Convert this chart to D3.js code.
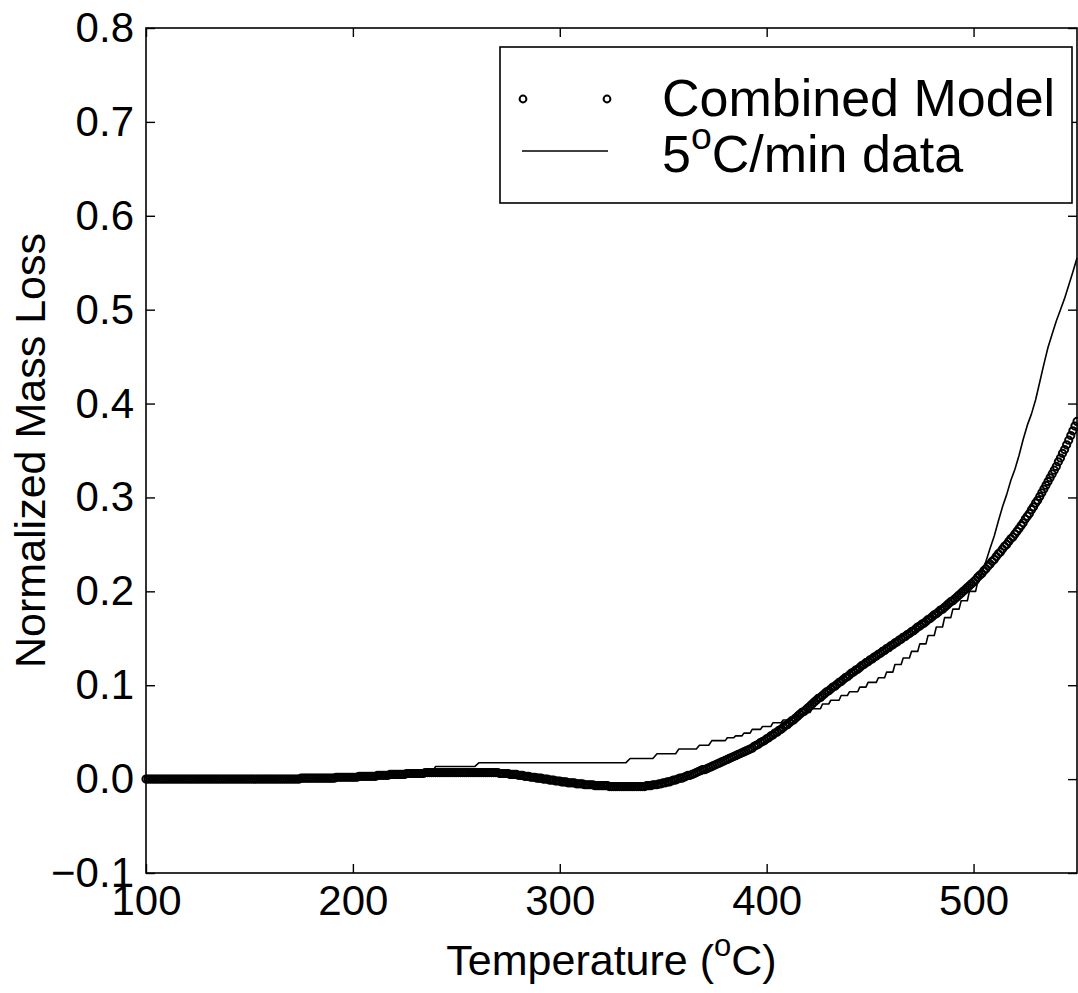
<!DOCTYPE html>
<html>
<head>
<meta charset="utf-8">
<script src="https://cdn.jsdelivr.net/npm/d3@7"></script>
<style>
  html, body { margin: 0; padding: 0; background: #fff; }
  svg { display: block; font-family: "Liberation Sans", Arial, Helvetica, sans-serif; }
</style>
</head>
<body>
<svg id="chart" width="1078" height="993"></svg>
<script>
// ---- data -------------------------------------------------------------
const xTicks = [100, 200, 300, 400, 500];
const yTicks = [-0.1, 0.0, 0.1, 0.2, 0.3, 0.4, 0.5, 0.6, 0.7, 0.8];

// Combined model, evaluated every 1 °C from 100 °C to 550 °C
const modelStartT = 100;
const modelStepT = 1;
const modelLoss = [
  0,0,0,0,0,0,0,0,0,0,
  0,0,0,0,0,0,0,0,0,0,
  0,0,0,0,0,0,0,0,0,0,
  0,0,0,0,0,0,0,0,0,0,
  0,0,0,0,0,0,0,0,0,0,
  0,0,0,0,0,0,0,0,0,0,
  0,0,0,0,0,0,0,0,0,0,
  0,0,0,0,0,0.001,0.001,0.001,0.001,0.001,
  0.001,0.001,0.001,0.001,0.001,0.001,0.001,0.001,0.001,0.001,
  0.001,0.001,0.002,0.002,0.002,0.002,0.002,0.002,0.002,0.002,
  0.002,0.002,0.002,0.003,0.003,0.003,0.003,0.003,0.003,0.003,
  0.003,0.003,0.004,0.004,0.004,0.004,0.004,0.004,0.005,0.005,
  0.005,0.005,0.005,0.005,0.005,0.005,0.006,0.006,0.006,0.006,
  0.006,0.006,0.006,0.006,0.006,0.007,0.007,0.007,0.007,0.007,
  0.007,0.007,0.007,0.007,0.007,0.007,0.007,0.007,0.007,0.007,
  0.007,0.007,0.007,0.007,0.007,0.007,0.007,0.007,0.007,0.007,
  0.007,0.007,0.007,0.007,0.007,0.007,0.007,0.007,0.007,0.007,
  0.007,0.006,0.006,0.006,0.006,0.006,0.005,0.005,0.005,0.005,
  0.004,0.004,0.004,0.003,0.003,0.003,0.002,0.002,0.002,0.001,
  0.001,0.001,0.000,0.000,0.000,-0.001,-0.001,-0.001,-0.002,-0.002,
  -0.002,-0.003,-0.003,-0.003,-0.004,-0.004,-0.004,-0.004,-0.005,-0.005,
  -0.005,-0.005,-0.006,-0.006,-0.006,-0.006,-0.006,-0.007,-0.007,-0.007,
  -0.007,-0.007,-0.007,-0.007,-0.008,-0.008,-0.008,-0.008,-0.008,-0.008,
  -0.008,-0.008,-0.008,-0.008,-0.008,-0.008,-0.008,-0.008,-0.008,-0.008,
  -0.008,-0.008,-0.007,-0.007,-0.007,-0.006,-0.006,-0.006,-0.005,-0.005,
  -0.004,-0.004,-0.003,-0.003,-0.002,-0.001,-0.001,0.000,0.001,0.001,
  0.002,0.003,0.004,0.004,0.005,0.006,0.007,0.008,0.009,0.010,
  0.010,0.011,0.012,0.013,0.014,0.015,0.016,0.017,0.018,0.019,
  0.020,0.021,0.022,0.023,0.024,0.025,0.026,0.027,0.028,0.029,
  0.030,0.031,0.032,0.033,0.035,0.036,0.037,0.039,0.040,0.041,
  0.043,0.044,0.046,0.047,0.049,0.050,0.052,0.053,0.055,0.057,
  0.058,0.060,0.062,0.063,0.065,0.067,0.069,0.071,0.072,0.074,
  0.076,0.078,0.080,0.082,0.084,0.086,0.087,0.089,0.091,0.093,
  0.094,0.096,0.098,0.099,0.101,0.103,0.104,0.106,0.108,0.109,
  0.111,0.113,0.114,0.116,0.117,0.119,0.121,0.122,0.124,0.125,
  0.127,0.128,0.130,0.131,0.133,0.134,0.136,0.137,0.139,0.140,
  0.142,0.143,0.145,0.146,0.148,0.149,0.151,0.152,0.154,0.155,
  0.157,0.158,0.160,0.162,0.163,0.165,0.166,0.168,0.170,0.171,
  0.173,0.175,0.176,0.178,0.180,0.181,0.183,0.185,0.187,0.189,
  0.190,0.192,0.194,0.196,0.198,0.200,0.202,0.204,0.206,0.208,
  0.210,0.212,0.215,0.217,0.219,0.222,0.224,0.227,0.229,0.232,
  0.234,0.237,0.240,0.242,0.245,0.248,0.250,0.253,0.256,0.258,
  0.261,0.264,0.267,0.270,0.273,0.277,0.280,0.283,0.287,0.290,
  0.294,0.297,0.301,0.305,0.309,0.313,0.317,0.321,0.325,0.329,
  0.333,0.338,0.342,0.347,0.351,0.356,0.361,0.366,0.371,0.376,
  0.381
];

// Measured TGA trace at 5 °C/min (balance resolution gives the staircase)
const dataTemp = [
  100, 150, 200, 238, 240, 259, 261, 332, 334, 345, 347, 356, 357.5, 366, 367.5,
  372, 373.5, 380, 381, 384, 385, 388, 389, 392, 393, 397, 398, 402, 403, 407,
  408, 412, 413, 417, 418, 421, 422, 426, 427, 430, 431, 435, 436, 439, 440,
  444, 445, 448, 449, 453, 454, 457, 458, 461, 462, 465, 466, 469, 470, 473,
  474, 477, 478, 481, 482, 485, 486, 489, 490, 493, 494, 497, 498, 501, 502,
  504, 506, 508, 510, 512, 514, 516, 518, 520, 522, 524, 526, 528, 530, 532,
  534, 536, 538, 540, 542, 544, 546, 548, 550
];
const dataLoss = [
  0.000, 0.000, 0.002, 0.006, 0.0135, 0.0135, 0.0175, 0.0175, 0.022, 0.022, 0.027, 0.027, 0.032, 0.032, 0.036,
  0.036, 0.041, 0.041, 0.044, 0.044, 0.046, 0.046, 0.049, 0.049, 0.053, 0.053, 0.056, 0.056, 0.060, 0.060,
  0.063, 0.063, 0.067, 0.067, 0.071, 0.071, 0.075, 0.075, 0.080, 0.080, 0.084, 0.084, 0.089, 0.089, 0.093,
  0.093, 0.098, 0.098, 0.103, 0.103, 0.108, 0.108, 0.114, 0.114, 0.122, 0.122, 0.129, 0.129, 0.136, 0.136,
  0.144, 0.144, 0.153, 0.153, 0.162, 0.162, 0.172, 0.172, 0.181, 0.181, 0.190, 0.190, 0.200, 0.200, 0.210,
  0.219, 0.232, 0.246, 0.259, 0.275, 0.290, 0.303, 0.318, 0.330, 0.345, 0.362, 0.377, 0.389, 0.404, 0.423,
  0.442, 0.460, 0.474, 0.488, 0.500, 0.512, 0.526, 0.540, 0.555
];

// ---- layout -----------------------------------------------------------
const svg = d3.select("#chart");
const plotL = 146, plotR = 1077, plotT = 28, plotB = 873;
const tickLen = 9;
const tickFont = 42, titleFont = 43, legendFont = 52;
const markerR = 3.6, markerW = 2.0;

const x = d3.scaleLinear().domain([100, 550]).range([plotL, plotR]);
const y = d3.scaleLinear().domain([-0.1, 0.8]).range([plotB, plotT]);

const modelPts = modelLoss.map((v, i) => ({ t: modelStartT + i * modelStepT, v }));
const dataPts = dataTemp.map((t, i) => ({ t, v: dataLoss[i] }));

// ---- axes (box with inward ticks on all four sides) -------------------
const fmt = d3.format(".1f");
const styleAxis = g => {
  g.select(".domain").remove();
  g.selectAll(".tick line").attr("stroke", "#000").attr("stroke-width", 1.4);
  g.selectAll(".tick text").attr("fill", "#000").style("font-size", tickFont + "px");
};

svg.append("g").attr("transform", `translate(0,${plotB})`)
  .call(d3.axisBottom(x).tickValues(xTicks).tickSizeInner(-tickLen).tickSizeOuter(0)
    .tickPadding(12).tickFormat(d3.format("d")))
  .call(styleAxis);

svg.append("g").attr("transform", `translate(0,${plotT})`)
  .call(d3.axisTop(x).tickValues(xTicks).tickSizeInner(-tickLen).tickSizeOuter(0).tickFormat(""))
  .call(styleAxis);

svg.append("g").attr("transform", `translate(${plotL},0)`)
  .call(d3.axisLeft(y).tickValues(yTicks).tickSizeInner(-tickLen).tickSizeOuter(0)
    .tickPadding(12).tickFormat(fmt))
  .call(styleAxis);

svg.append("g").attr("transform", `translate(${plotR},0)`)
  .call(d3.axisRight(y).tickValues(yTicks).tickSizeInner(-tickLen).tickSizeOuter(0).tickFormat(""))
  .call(styleAxis);

svg.append("rect")
  .attr("x", plotL).attr("y", plotT)
  .attr("width", plotR - plotL).attr("height", plotB - plotT)
  .attr("fill", "none").attr("stroke", "#000").attr("stroke-width", 1.6);

// ---- series -----------------------------------------------------------
const plot = svg.append("g");

plot.append("path")
  .datum(dataPts)
  .attr("fill", "none")
  .attr("stroke", "#000")
  .attr("stroke-width", 1.6)
  .attr("stroke-linejoin", "round")
  .attr("d", d3.line().x(d => x(d.t)).y(d => y(d.v)));

plot.selectAll("circle.model")
  .data(modelPts)
  .join("circle")
  .attr("class", "model")
  .attr("cx", d => x(d.t))
  .attr("cy", d => y(d.v))
  .attr("r", markerR)
  .attr("fill", "none")
  .attr("stroke", "#000")
  .attr("stroke-width", markerW);

// ---- axis titles ------------------------------------------------------
const xTitle = svg.append("text")
  .attr("x", (plotL + plotR) / 2).attr("y", 975)
  .attr("text-anchor", "middle")
  .style("font-size", titleFont + "px");
xTitle.append("tspan").text("Temperature (");
xTitle.append("tspan").attr("font-size", titleFont * 0.72).attr("dy", -titleFont * 0.45).text("o");
xTitle.append("tspan").attr("dy", titleFont * 0.45).text("C)");

svg.append("text")
  .attr("transform", `translate(45,${(plotT + plotB) / 2}) rotate(-90)`)
  .attr("text-anchor", "middle")
  .style("font-size", titleFont + "px")
  .text("Normalized Mass Loss");

// ---- legend -----------------------------------------------------------
const lg = svg.append("g");
lg.append("rect")
  .attr("x", 500).attr("y", 47).attr("width", 572).attr("height", 156)
  .attr("fill", "#fff").attr("stroke", "#000").attr("stroke-width", 1.6);

const row1 = 99, row2 = 151;
[523, 607].forEach(cx => {
  lg.append("circle").attr("cx", cx).attr("cy", row1).attr("r", 3.4)
    .attr("fill", "none").attr("stroke", "#000").attr("stroke-width", 2.0);
});
lg.append("line")
  .attr("x1", 522).attr("x2", 608).attr("y1", row2).attr("y2", row2)
  .attr("stroke", "#000").attr("stroke-width", 1.6);

lg.append("text")
  .attr("x", 662).attr("y", row1 + 17)
  .style("font-size", legendFont + "px")
  .text("Combined Model");

const l2 = lg.append("text")
  .attr("x", 662).attr("y", row2 + 21)
  .style("font-size", legendFont + "px");
l2.append("tspan").text("5");
l2.append("tspan").attr("font-size", legendFont * 0.72).attr("dy", -legendFont * 0.45).text("o");
l2.append("tspan").attr("dy", legendFont * 0.45).text("C/min data");
</script>
</body>
</html>
